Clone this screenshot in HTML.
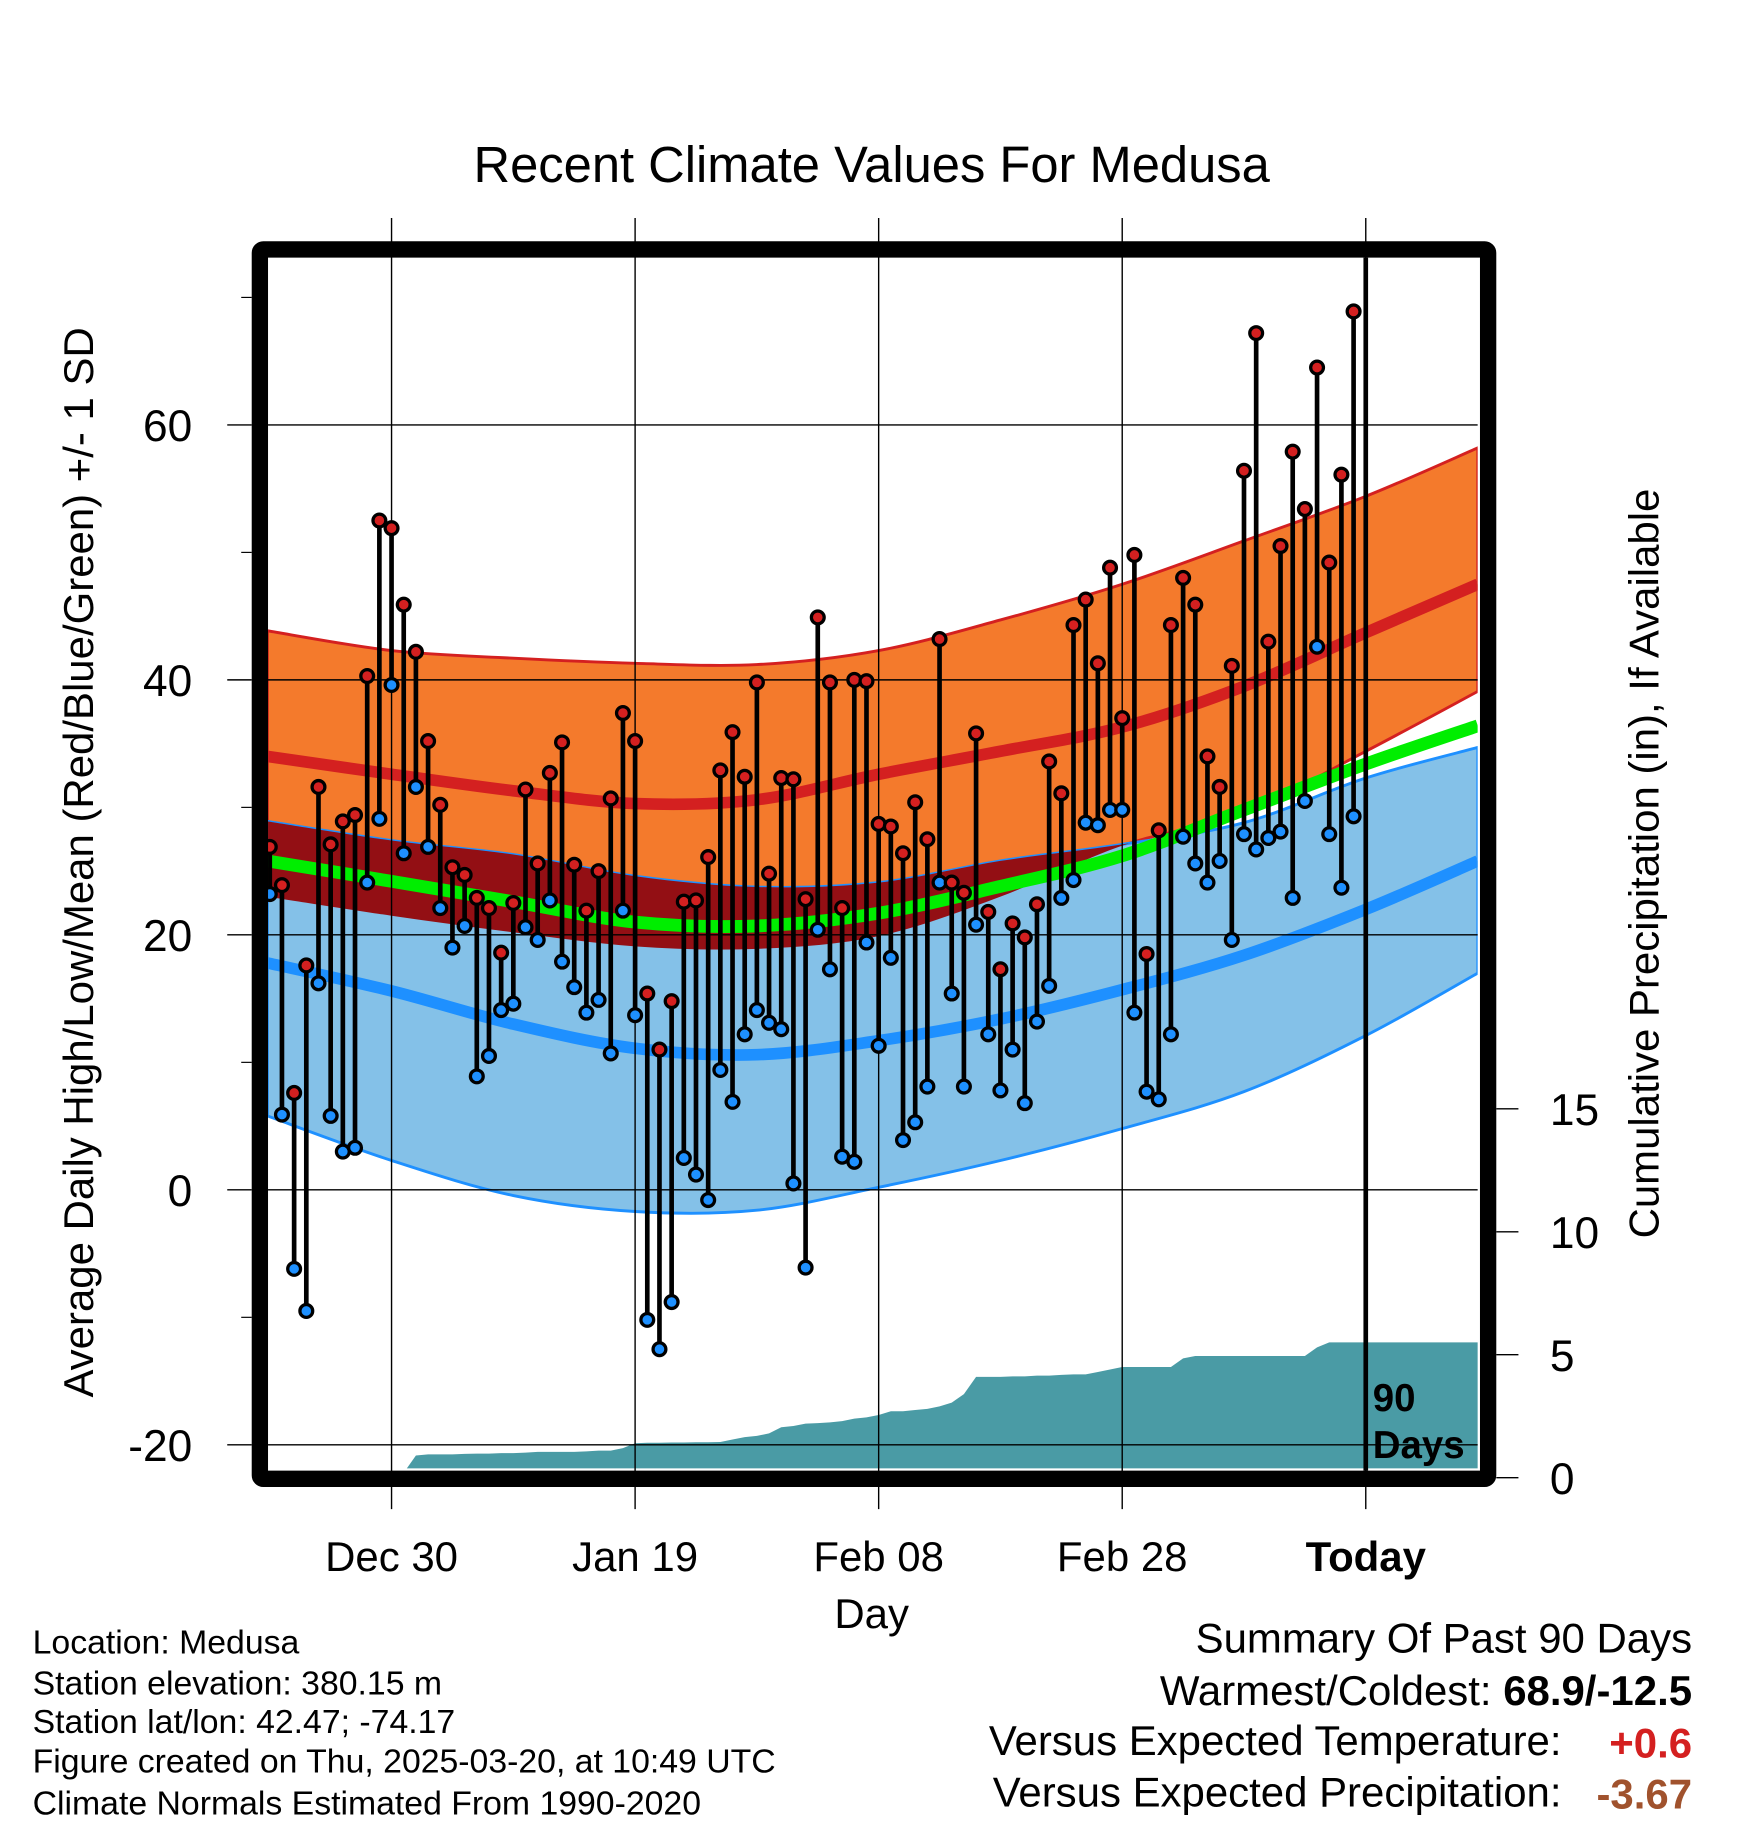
<!DOCTYPE html>
<html><head><meta charset="utf-8"><style>
html,body{margin:0;padding:0;background:#fff;}
svg{display:block;font-family:"Liberation Sans",Arial,sans-serif;}
</style></head><body>
<svg id="chart" width="1748" height="1828" viewBox="0 0 1500 1568.6" xmlns="http://www.w3.org/2000/svg">
<rect width="1500" height="1568.6" fill="#fff"/>
<defs><clipPath id="plotclip"><rect x="230" y="221" width="1038" height="1039"/></clipPath>
<clipPath id="hiclip"><path id="hiclippath" d=""/></clipPath></defs>
<text x="748" y="156" font-size="43.5" text-anchor="middle">Recent Climate Values For Medusa</text>
<g id="plot" clip-path="url(#plotclip)"></g>
<g id="grid"></g>
<g id="marks" clip-path="url(#plotclip)"></g>
<g id="axes"></g>
<text transform="translate(80,740) rotate(-90)" font-size="36" text-anchor="middle">Average Daily High/Low/Mean (Red/Blue/Green) +/- 1 SD</text>
<text transform="translate(1423,741) rotate(-90)" font-size="36" text-anchor="middle">Cumulative Precipitation (in), If Available</text>
<text x="748" y="1397" font-size="36" text-anchor="middle">Day</text>
<g font-size="29">
<text x="28" y="1419">Location: Medusa</text>
<text x="28" y="1454">Station elevation: 380.15 m</text>
<text x="28" y="1487">Station lat/lon: 42.47; -74.17</text>
<text x="28" y="1521">Figure created on Thu, 2025-03-20, at 10:49 UTC</text>
<text x="28" y="1557">Climate Normals Estimated From 1990-2020</text>
</g>
<g font-size="36">
<text x="1452" y="1418" text-anchor="end">Summary Of Past 90 Days</text>
<text x="1452" y="1463" text-anchor="end">Warmest/Coldest: <tspan font-weight="bold">68.9/-12.5</tspan></text>
<text x="1340" y="1506" text-anchor="end">Versus Expected Temperature:</text>
<text x="1452" y="1508" text-anchor="end" font-weight="bold" fill="#d42020">+0.6</text>
<text x="1340" y="1550" text-anchor="end">Versus Expected Precipitation:</text>
<text x="1452" y="1552" text-anchor="end" font-weight="bold" fill="#a0522d">-3.67</text>
</g>
</svg>
<script>
// ---- data ----
const normDays = [-90.2,-80,-70,-60,-50,-40,-30,-20,-10,0,9.2];
const hiUpper = [43.85,42.3,41.7,41.3,41.2,42.3,44.7,47.5,50.9,54.4,58.2];
const hiMean  = [34.0,32.6,31.3,30.3,30.6,32.6,34.4,36.3,39.5,43.7,47.5];
const hiLower = [23.0,21.5,20.2,19.1,18.9,19.9,23.0,27.0,29.6,34.4,39.1];
const loUpper = [28.9,27.4,26.3,24.6,23.75,24.1,25.8,27.1,28.8,32.3,34.7];
const loMean  = [17.8,15.6,13.0,11.1,10.6,11.7,13.4,15.7,18.4,22.0,25.8];
const loLower = [5.8,2.3,-0.45,-1.7,-1.6,0.2,2.3,4.8,7.7,12.1,17.0];
const avgMean = [25.8,24.2,22.6,21.0,20.7,21.7,23.8,26.2,29.8,33.4,36.4];
const highs = [26.9,23.9,7.6,17.6,31.6,27.1,28.9,29.4,40.3,52.5,51.9,45.9,42.2,35.2,30.2,25.3,24.7,22.9,22.1,18.6,22.5,31.4,25.6,32.7,35.1,25.5,21.9,25.0,30.7,37.4,35.2,15.4,11.0,14.8,22.6,22.7,26.1,32.9,35.9,32.4,39.8,24.8,32.3,32.2,22.8,44.9,39.8,22.1,40.0,39.9,28.7,28.5,26.4,30.4,27.5,43.2,24.1,23.3,35.8,21.8,17.3,20.9,19.8,22.4,33.6,31.1,44.3,46.3,41.3,48.8,37.0,49.8,18.5,28.2,44.3,48.0,45.9,34.0,31.6,41.1,56.4,67.2,43.0,50.5,57.9,53.4,64.5,49.2,56.1,68.9];
const lows = [23.2,5.9,-6.2,-9.5,16.2,5.8,3.0,3.3,24.1,29.1,39.6,26.4,31.6,26.9,22.1,19.0,20.7,8.9,10.5,14.1,14.6,20.6,19.6,22.7,17.9,15.9,13.9,14.9,10.7,21.9,13.7,-10.2,-12.5,-8.8,2.5,1.2,-0.8,9.4,6.9,12.2,14.1,13.1,12.6,0.5,-6.1,20.4,17.3,2.6,2.2,19.4,11.3,18.2,3.9,5.3,8.1,24.1,15.4,8.1,20.8,12.2,7.8,11.0,6.8,13.2,16.0,22.9,24.3,28.8,28.6,29.8,29.8,13.9,7.7,7.1,12.2,27.7,25.6,24.1,25.8,19.6,27.9,26.7,27.6,28.1,22.9,30.5,42.6,27.9,23.7,29.3];
const precipCum = [0,0,0,0,0,0,0,0,0,0,0.1,0.2,0.9,0.95,0.95,0.95,0.97,0.98,0.98,1.0,1.0,1.02,1.05,1.05,1.05,1.05,1.07,1.1,1.1,1.2,1.4,1.42,1.42,1.43,1.43,1.44,1.44,1.45,1.55,1.65,1.7,1.8,2.05,2.1,2.2,2.22,2.25,2.3,2.4,2.45,2.55,2.7,2.7,2.75,2.8,2.9,3.05,3.4,4.1,4.1,4.1,4.12,4.12,4.15,4.15,4.18,4.2,4.2,4.3,4.4,4.5,4.5,4.5,4.5,4.5,4.85,4.95,4.95,4.95,4.95,4.95,4.95,4.95,4.95,4.95,4.95,5.3,5.5,5.5,5.5];
const yTicks = [60,40,20,0,-20];
const yMinor = [70,50,30,10,-10];
const pTicks = [0,5,10,15];
const xTickDays = [-80,-60,-40,-20,0];
const xTickLabels = ["Dec 30","Jan 19","Feb 08","Feb 28","Today"];

// ---- axes ----
const NS="http://www.w3.org/2000/svg";
const xOf = d => 1172 + d*10.45;
const yOf = v => 1021 - v*10.94;
const pOf = p => 1268 - p*21.1;
function mk(tag, attrs, parent){const e=document.createElementNS(NS,tag);for(const k in attrs)e.setAttribute(k,attrs[k]);parent.appendChild(e);return e;}
function curvePts(arr){return normDays.map((d,i)=>[xOf(d),yOf(arr[i])]);}
function smooth(pts){let s="";for(let i=0;i<pts.length-1;i++){const p0=pts[Math.max(i-1,0)],p1=pts[i],p2=pts[i+1],p3=pts[Math.min(i+2,pts.length-1)];
 const c1=[p1[0]+(p2[0]-p0[0])/6,p1[1]+(p2[1]-p0[1])/6],c2=[p2[0]-(p3[0]-p1[0])/6,p2[1]-(p3[1]-p1[1])/6];
 s+=(i===0?"M"+p1[0]+","+p1[1]:"")+" C"+c1+" "+c2+" "+p2;}return s;}
function revSmooth(pts){const r=pts.slice().reverse();return smooth(r).replace(/^M/," L");}
function band(up,lo){return smooth(curvePts(up))+revSmooth(curvePts(lo))+" Z";}

const plot=document.getElementById('plot');
const hiBand=band(hiUpper,hiLower), loBand=band(loUpper,loLower);
document.getElementById('hiclippath').setAttribute('d',hiBand);
let e;
e=mk('path',{d:hiBand,fill:'#f47a2c',stroke:'#d42020','stroke-width':2.5},plot);


e=mk('path',{d:loBand,fill:'#84c1e8',stroke:'#1e90ff','stroke-width':2.5},plot);


e=mk('path',{d:loBand,fill:'#930f14','clip-path':'url(#hiclip)'},plot);


e=mk('path',{d:smooth(curvePts(hiMean)),fill:'none',stroke:'#d42020','stroke-width':10},plot);


e=mk('path',{d:smooth(curvePts(loMean)),fill:'none',stroke:'#1e90ff','stroke-width':10},plot);


e=mk('path',{d:smooth(curvePts(avgMean)),fill:'none',stroke:'#00ee00','stroke-width':11},plot);



// precipitation area
let pd="M"+xOf(-90.2)+","+pOf(0);
precipCum.forEach((p,i)=>{const d=-90+i;pd+=" L"+xOf(d)+","+pOf(p);});
pd+=" L1270,"+pOf(precipCum[precipCum.length-1])+" L1270,"+pOf(0)+" Z";
e=mk('path',{d:pd,fill:'#4a9ba5'},plot);



// grid + ticks
const grid=document.getElementById('grid');
yTicks.forEach(v=>{
 e=mk('line',{x1:230,x2:1268,y1:yOf(v),y2:yOf(v),stroke:'#000','stroke-width':1.2},grid);
 
 
 mk('line',{x1:195,x2:216,y1:yOf(v),y2:yOf(v),stroke:'#000','stroke-width':1.2},grid);
 e=mk('text',{x:165,y:yOf(v)+14,'font-size':38,'text-anchor':'end'},grid);e.textContent=v;
 
 
});
yMinor.forEach(v=>{mk('line',{x1:207,x2:216,y1:yOf(v),y2:yOf(v),stroke:'#000','stroke-width':1},grid);});
pTicks.forEach(p=>{
 mk('line',{x1:1284,x2:1303,y1:pOf(p),y2:pOf(p),stroke:'#000','stroke-width':1.2},grid);
 e=mk('text',{x:1330,y:pOf(p)+14,'font-size':38},grid);e.textContent=p;
 
 
});
xTickDays.forEach((d,i)=>{
 e=mk('line',{x1:xOf(d),x2:xOf(d),y1:187,y2:1295,stroke:'#000','stroke-width':1.2},grid);
 
 
 e=mk('text',{x:xOf(d),y:1348,'font-size':36,'text-anchor':'middle'},grid);e.textContent=xTickLabels[i];
 if(xTickLabels[i]==="Today")e.setAttribute('font-weight','bold');
 
 
});

// daily marks
const marks=document.getElementById('marks');
highs.forEach((h,i)=>{
 const d=-90+i, x=xOf(d);
 e=mk('line',{x1:x,x2:x,y1:yOf(h),y2:yOf(lows[i]),stroke:'#000','stroke-width':4},marks);
 
 
 e=mk('circle',{cx:x,cy:yOf(lows[i]),r:5.5,fill:'#1e90ff',stroke:'#000','stroke-width':2.8},marks);
 
 
 e=mk('circle',{cx:x,cy:yOf(h),r:5.5,fill:'#d42020',stroke:'#000','stroke-width':2.8},marks);
 
 
});
const axes=document.getElementById('axes');
e=mk('line',{x1:xOf(0),x2:xOf(0),y1:221,y2:1262,stroke:'#000','stroke-width':4},axes);


e=mk('rect',{x:223,y:214,width:1054,height:1055,fill:'none',stroke:'#000','stroke-width':14,rx:3},axes);


e=mk('text',{x:1178,y:1211,'font-size':33,'font-weight':'bold'},axes);e.textContent="90";


e=mk('text',{x:1178,y:1251,'font-size':33,'font-weight':'bold'},axes);e.textContent="Days";


</script>
</body></html>
